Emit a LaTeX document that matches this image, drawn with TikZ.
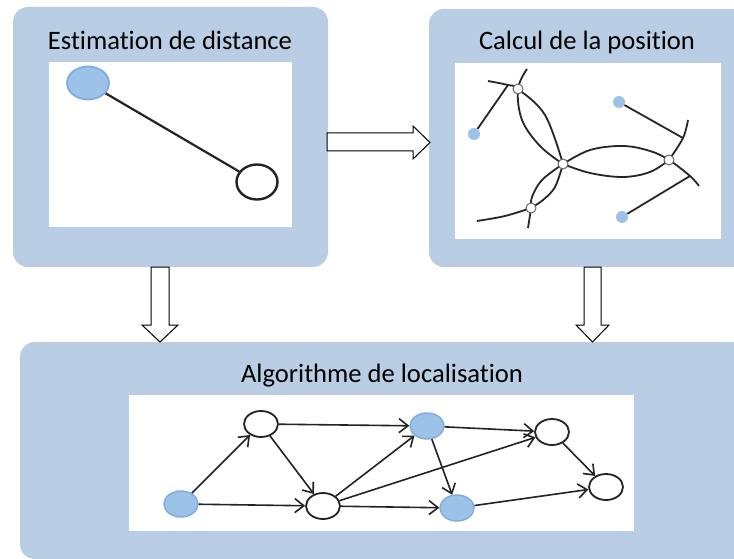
\documentclass[tikz,border=0pt]{standalone}
\usepackage{fontspec}
\setmainfont{Carlito}[Ligatures=NoCommon]
\usetikzlibrary{shapes.geometric,arrows.meta}

\definecolor{panelblue}{RGB}{185,205,228}
\definecolor{nodeblue}{RGB}{157,194,232}
\definecolor{nodeedge}{RGB}{125,172,222}
\definecolor{inkgray}{RGB}{35,35,35}

\tikzset{
  panel/.style={fill=panelblue, rounded corners=15pt},
  sheet/.style={fill=white},
  title/.style={anchor=base, inner sep=0pt, font=\fontsize{26.6}{30}\selectfont},
  bluenode/.style={ellipse, fill=nodeblue, draw=nodeedge, line width=1.4pt, inner sep=0pt},
  opennode/.style={ellipse, fill=white, draw=inkgray, line width=1.8pt, inner sep=0pt},
  link/.style={draw=inkgray, line width=2.2pt},
  flow/.style={draw=inkgray, line width=1.6pt, -{Straight Barb[length=9pt,width=14pt,line width=1.6pt]}},
  arc/.style={draw=black!85, line width=1.8pt},
  pin/.style={circle, fill=white, draw=black!60, line width=1pt, minimum size=10pt, inner sep=0pt},
  dot/.style={circle, fill=nodeblue, minimum size=12pt, inner sep=0pt},
  blockarrow/.style={draw=black, fill=white, line width=1pt, line join=miter}
}

\begin{document}
\begin{tikzpicture}[x=1pt,y=-1pt]
\clip (0,0) rectangle (734,559);
\fill[white] (0,0) rectangle (734,559);

% panels
\path[panel] (13,7) rectangle (328,267);
\path[panel] (429,9) rectangle (760,267);
\path[panel] (20,342) rectangle (760,559);

% white sheets
\path[sheet] (49,62) rectangle (292,227);
\path[sheet] (455,63) rectangle (721,239);
\path[sheet] (129,395) rectangle (634,531);

% titles
\node[title] (t1) at (170,50) {Estimation de distance};
\node[title] (t2) at (587,50) {Calcul de la position};
\node[title] (t3) at (382,382) {Algorithme de localisation};

% block arrows between the panels
\draw[blockarrow] (327,133) -- (413,133) -- (413,126) -- (430,142.5) -- (413,159) -- (413,151) -- (327,151) -- cycle;
\draw[blockarrow] (151,267) -- (169,267) -- (169,325) -- (178,325) -- (160,342) -- (142,325) -- (151,325) -- cycle;
\draw[blockarrow] (584,267) -- (601,267) -- (601,325) -- (609,325) -- (592.5,342) -- (576,325) -- (584,325) -- cycle;

% distance estimation: anchor and unknown node
\node[bluenode, minimum width=42pt, minimum height=33pt, line width=1.8pt] (s) at (88,83) {};
\node[opennode, minimum width=41pt, minimum height=35pt, line width=2.4pt] (u) at (257,182) {};
\draw[link] (s) -- (u);

% position computation: intersecting range arcs
\coordinate (p1) at (518,89);
\coordinate (p2) at (563,164);
\coordinate (p3) at (669,160);
\coordinate (p4) at (531,208);
\coordinate (h1) at (508,85);
\coordinate (h2) at (683,138);
\coordinate (h3) at (690,176);

\draw[arc] plot[smooth, tension=0.6] coordinates {(488,81) (h1) (p1) (545,115) (p2)};
\draw[arc] plot[smooth, tension=0.6] coordinates {(527,69) (p1) (522,120) (540,146) (p2)};
\draw[arc] plot[smooth, tension=0.6] coordinates {(p2) (590,150) (623,146) (650,151) (p3) (h3) (699,186)};
\draw[arc] plot[smooth, tension=0.6] coordinates {(p2) (590,173) (623,177) (650,172) (p3)};
\draw[arc] plot[smooth, tension=0.6] coordinates {(688,120) (h2) (p3)};
\draw[arc] plot[smooth, tension=0.6] coordinates {(p2) (542,180) (532,197) (p4) (528,228)};
\draw[arc] plot[smooth, tension=0.6] coordinates {(p2) (555,187) (543,200) (p4)};
\draw[arc] plot[smooth, tension=0.6] coordinates {(477,221) (505,216) (p4)};

\node[dot] (q1) at (474,134) {};
\node[dot] (q2) at (619,102) {};
\node[dot] (q3) at (622,217) {};
\draw[arc] (q1) -- (h1);
\draw[arc] (q2) -- (h2);
\draw[arc] (q3) -- (h3);

\node[pin] (n1) at (p1) {};
\node[pin] (n2) at (p2) {};
\node[pin] (n3) at (p3) {};
\node[pin] (n4) at (p4) {};

% localisation algorithm: directed graph
\tikzset{gnode/.style={minimum width=34pt, minimum height=26pt}}
\node[bluenode, gnode] (a) at (181,504) {};
\node[opennode, gnode] (b) at (261,424) {};
\node[opennode, gnode] (c) at (323,506) {};
\node[bluenode, gnode] (d) at (427,426) {};
\node[bluenode, gnode] (e) at (457,508) {};
\node[opennode, gnode] (f) at (552,432) {};
\node[opennode, gnode] (g) at (606,487) {};

\draw[flow] (a) -- (b);
\draw[flow] (a) -- (c);
\draw[flow] (b) -- (d);
\draw[flow] (b) -- (c);
\draw[flow] (c) -- (d);
\draw[flow] (c) -- (f);
\draw[flow] (c) -- (e);
\draw[flow] (d) -- (f);
\draw[flow] (d) -- (e);
\draw[flow] (f) -- (g);
\draw[flow] (e) -- (g);
\end{tikzpicture}
\end{document}
